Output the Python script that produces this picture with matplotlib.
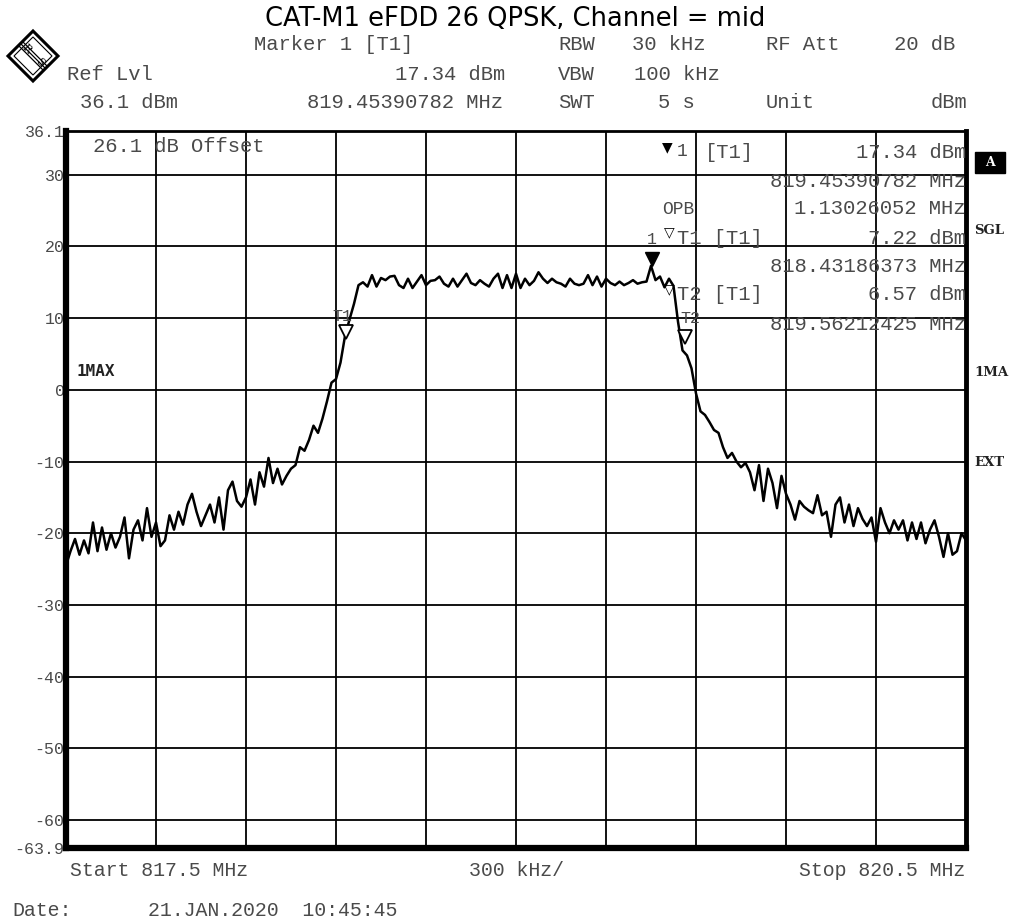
import numpy as np
import matplotlib
matplotlib.use("Agg")
import matplotlib.pyplot as plt
from matplotlib.patches import Polygon, Rectangle

# ---------------- data ----------------
f_start, f_stop = 817.5, 820.5
y_top, y_bot = 36.1, -63.9

level_dbm = [
    -24.5, -22.5, -20.8, -23.0, -21.0, -22.8, -18.5, -22.5, -19.2, -22.3,
    -20.0, -22.0, -20.5, -17.8, -23.5, -19.5, -18.2, -21.0, -16.5, -20.5,
    -18.5, -21.8, -21.0, -17.5, -19.5, -17.0, -18.8, -16.0, -14.5, -17.0,
    -19.0, -17.5, -16.0, -18.5, -15.0, -19.5, -14.0, -12.8, -15.5, -16.3,
    -15.0, -12.5, -16.0, -11.5, -13.5, -9.5, -13.0, -11.0, -13.2, -12.0,
    -11.0, -10.5, -8.0, -8.5, -7.0, -5.0, -6.0, -4.0, -1.6, 1.0,
    1.5, 3.8, 7.5, 9.8, 12.0, 14.6, 15.0, 14.4, 16.0, 14.4,
    15.6, 15.3, 15.8, 15.9, 14.6, 14.2, 15.5, 14.2, 15.1, 16.0,
    14.6, 15.2, 15.3, 15.8, 14.8, 14.4, 15.5, 14.4, 15.3, 16.2,
    14.9, 14.6, 15.3, 14.8, 14.4, 15.5, 16.2, 14.2, 16.0, 14.2,
    16.2, 14.2, 15.5, 14.6, 15.2, 16.4, 15.5, 14.9, 15.5, 15.0,
    14.8, 14.4, 15.5, 14.8, 14.6, 14.8, 16.0, 14.6, 15.8, 14.4,
    15.5, 14.9, 14.6, 15.1, 14.6, 14.9, 15.3, 14.8, 15.0, 15.1,
    17.3, 15.3, 15.8, 14.3, 15.5, 14.5, 9.5, 5.5, 4.8, 3.0,
    -0.5, -3.0, -3.5, -4.5, -5.6, -6.0, -8.0, -9.5, -8.8, -10.0,
    -10.8, -10.2, -11.5, -14.0, -10.5, -15.5, -11.0, -13.0, -16.5, -12.0,
    -14.5, -16.0, -18.1, -15.5, -16.3, -16.8, -17.2, -14.7, -17.5, -17.0,
    -20.5, -16.0, -15.0, -18.5, -16.0, -19.0, -16.5, -18.0, -19.0, -17.8,
    -21.2, -16.5, -18.5, -20.0, -18.2, -19.5, -18.2, -21.0, -18.5, -20.8,
    -18.5, -21.4, -19.5, -18.2, -20.5, -23.3, -20.0, -23.0, -22.5, -20.0,
    -21.0,
]
freq_step = (f_stop - f_start) / (len(level_dbm) - 1)
freq_mhz = [f_start + i * freq_step for i in range(len(level_dbm))]

marker_names = ["1", "T1", "T2"]
marker_freq = [819.45390782, 818.43186373, 819.56212425]
marker_level = [17.34, 7.22, 6.57]

ytick_vals = [36.1, 30, 20, 10, 0, -10, -20, -30, -40, -50, -60, -63.9]
ytick_labels = ["36.1", "30", "20", "10", "0", "-10", "-20", "-30", "-40", "-50", "-60", "-63.9"]

# ---------------- figure ----------------
W, H = 1012, 922
fig = plt.figure(figsize=(W / 100, H / 100), dpi=100)
fig.patch.set_facecolor("white")

def fx(x):
    return x / W

def fy(y):
    return 1 - y / H

mono = "Liberation Mono"
gray = "#4a4a4a"

ax = fig.add_axes([fx(66), fy(848), fx(966) - fx(66), fy(131) - fy(848)])
ax.set_xlim(f_start, f_stop)
ax.set_ylim(y_bot, y_top)

# grid
for k in range(1, 10):
    ax.axvline(f_start + 0.3 * k, color="black", lw=1.3, zorder=1)
for v in range(-60, 31, 10):
    ax.axhline(v, color="black", lw=1.3, zorder=1)

ax.set_xticks([])
ax.set_yticks(ytick_vals)
ax.set_yticklabels(ytick_labels, family=mono, fontsize=12, color=gray)
ax.tick_params(axis="y", length=0, pad=1)

for side, lw in (("left", 4.5), ("bottom", 4.5), ("right", 3.5), ("top", 2.0)):
    ax.spines[side].set_linewidth(lw)
    ax.spines[side].set_color("black")

# trace
ax.plot(freq_mhz, level_dbm, color="black", lw=1.8, zorder=3)

# markers (tip on the trace point)
ax.plot(marker_freq[0], marker_level[0] + 0.85, marker="v", ms=10,
        mfc="black", mec="black", zorder=4)
for i in (1, 2):
    ax.plot(marker_freq[i], marker_level[i] + 0.85, marker="v", ms=10,
            mfc="white", mec="black", mew=1.3, zorder=4)

ax.text(marker_freq[0], marker_level[0] + 2.6, marker_names[0], ha="center", va="bottom",
        family=mono, fontsize=12, color=gray, zorder=5)
ax.text(marker_freq[1] - 0.01, marker_level[1] + 2.0, marker_names[1], ha="center", va="bottom",
        family=mono, fontsize=12, color=gray, zorder=5)
ax.text(marker_freq[2] + 0.02, marker_level[2] + 2.4, marker_names[2], ha="center", va="bottom",
        family=mono, fontsize=12, color=gray, zorder=5)

# ---------------- texts ----------------
fig.text(fx(515), fy(19), "CAT-M1 eFDD 26 QPSK, Channel = mid", ha="center", va="center",
         family="DejaVu Sans", fontsize=18.5, color="black")

FS = 14.8

def t(x, y, s, ha="left", size=FS, **kw):
    kw.setdefault("color", gray)
    fig.text(fx(x), fy(y), s, ha=ha, va="center", family=mono, fontsize=size, **kw)

t(254, 45, "Marker 1 [T1]")
t(558, 45, "RBW")
t(706, 45, "30 kHz", ha="right")
t(766, 45, "RF Att")
t(955, 45, "20 dB", ha="right")

t(67, 74, "Ref Lvl")
t(505, 74, "17.34 dBm", ha="right")
t(558, 74, "VBW")
t(634, 74, "100 kHz")

t(80, 102, "36.1 dBm")
t(503, 102, "819.45390782 MHz", ha="right")
t(558, 102, "SWT")
t(695, 102, "5 s", ha="right")
t(766, 102, "Unit")
t(967, 102, "dBm", ha="right")

# in-plot
t(93, 146, "26.1 dB Offset")
fig.text(fx(77), fy(372), "1MAX", ha="left", va="center", family="DejaVu Sans Mono",
         fontsize=11.5, weight="bold", color="#222222")

fig.text(fx(667), fy(147), "\u25BC", ha="center", va="center", family="DejaVu Sans",
         fontsize=10, color="black")
t(677, 152, "1", size=13)
t(705, 152, "[T1]")
t(966, 152, "17.34 dBm", ha="right")
t(966, 181, "819.45390782 MHz", ha="right")
t(662, 209, "OPB", size=13)
t(966, 209, "1.13026052 MHz", ha="right")
fig.text(fx(669), fy(232), "\u25BD", ha="center", va="center", family="DejaVu Sans",
         fontsize=10, color="black")
t(677, 238, "T1 [T1]")
t(966, 238, "7.22 dBm", ha="right")
t(966, 267, "818.43186373 MHz", ha="right")
fig.text(fx(669), fy(289), "\u25BD", ha="center", va="center", family="DejaVu Sans",
         fontsize=10, color="black")
t(677, 295, "T2 [T1]")
t(966, 295, "6.57 dBm", ha="right")
t(966, 324, "819.56212425 MHz", ha="right")

# right side labels
fig.patches.append(Rectangle((fx(975), fy(173)), fx(30), fy(152) - fy(173),
                             transform=fig.transFigure, facecolor="black", edgecolor="black"))
fig.text(fx(990), fy(162), "A", ha="center", va="center", family="DejaVu Serif",
         fontsize=9, weight="bold", color="white")
for yy, s in ((231, "SGL"), (373, "1MA"), (462, "EXT")):
    fig.text(fx(974), fy(yy), s, ha="left", va="center", family="DejaVu Serif",
             fontsize=9.5, weight="bold", color="#222222")

# bottom
t(70, 870, "Start 817.5 MHz", size=14.3)
t(469, 870, "300 kHz/", size=14.3)
t(965, 870, "Stop 820.5 MHz", ha="right", size=14.3)
t(12, 910, "Date:", size=14.3)
t(148, 910, "21.JAN.2020  10:45:45", size=14.3)

# R&S logo
cx, cy, r = 33, 56, 25
outer = [(fx(cx - r), fy(cy)), (fx(cx), fy(cy - r)), (fx(cx + r), fy(cy)), (fx(cx), fy(cy + r))]
fig.patches.append(Polygon(outer, closed=True, transform=fig.transFigure,
                           facecolor="white", edgecolor="black", lw=2.2))
r2 = 19
inner = [(fx(cx - r2), fy(cy)), (fx(cx), fy(cy - r2)), (fx(cx + r2), fy(cy)), (fx(cx), fy(cy + r2))]
fig.patches.append(Polygon(inner, closed=True, transform=fig.transFigure,
                           facecolor="none", edgecolor="black", lw=0.8))
for d in (-2, 0, 2):
    fig.lines.append(plt.Line2D([fx(cx - 12 + d), fx(cx + 12 + d)], [fy(cy - 12 - d), fy(cy + 12 - d)],
                                transform=fig.transFigure, color="black", lw=0.9))
fig.text(fx(cx - 7), fy(cy - 7), "R", ha="center", va="center", family="DejaVu Serif",
         fontsize=8, rotation=-45, color="black")
fig.text(fx(cx + 7), fy(cy + 7), "S", ha="center", va="center", family="DejaVu Serif",
         fontsize=8, rotation=-45, color="black")

fig.savefig("out.png", dpi=100, facecolor="white")
